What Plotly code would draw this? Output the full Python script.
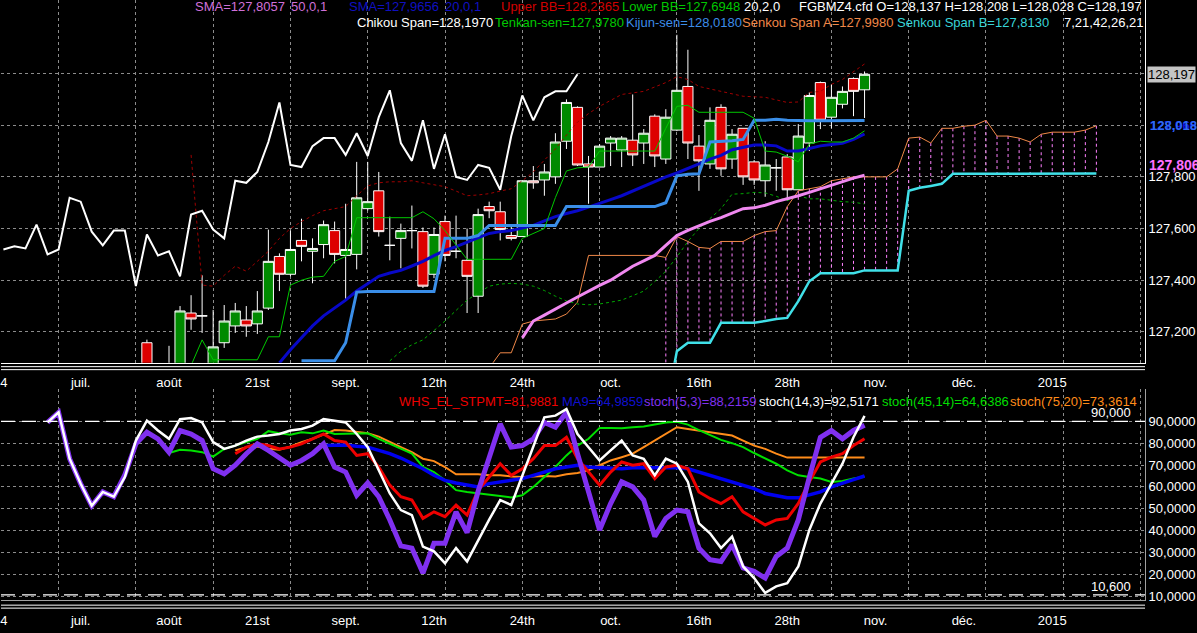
import plotly.graph_objects as go

FONT = "Liberation Sans, Arial, sans-serif"

# ---------------- price panel (x = bar index) ----------------
candle_start = 13
opens = [127.158, 127.020, 127.060, 127.050, 127.273, 127.262, 127.060, 127.158, 127.223, 127.246,
         127.231, 127.292, 127.492, 127.423, 127.554, 127.512, 127.538, 127.592, 127.496, 127.500,
         127.677, 127.746, 127.535, 127.562, 127.592, 127.588, 127.423, 127.627, 127.512, 127.477,
         127.338, 127.685, 127.665, 127.573, 127.569, 127.785, 127.788, 127.800, 127.938, 128.069,
         127.850, 127.838, 127.931, 127.904, 127.942, 127.931, 128.035, 127.869, 127.981, 128.150,
         127.919, 127.850, 128.069, 127.869, 127.988, 127.858, 127.785, 127.835, 127.877, 127.750,
         127.931, 128.165, 128.031, 128.081, 128.181, 128.137]
highs = [127.170, 127.060, 127.146, 127.300, 127.342, 127.419, 127.285, 127.304, 127.312, 127.300,
         127.358, 127.596, 127.504, 127.592, 127.638, 127.562, 127.631, 127.627, 127.696, 127.858,
         127.858, 127.819, 127.646, 127.619, 127.689, 127.604, 127.604, 127.650, 127.650, 127.600,
         127.677, 127.704, 127.704, 127.612, 127.785, 127.842, 127.850, 127.969, 128.100, 128.073,
         127.881, 127.927, 127.958, 127.958, 128.119, 127.985, 128.042, 128.062, 128.350, 128.292,
         127.962, 128.069, 128.081, 127.985, 127.988, 127.865, 127.938, 127.869, 127.888, 128.004,
         128.127, 128.169, 128.158, 128.150, 128.185, 128.208]
lows = [127.000, 126.950, 126.980, 127.000, 127.208, 127.196, 127.000, 127.138, 127.196, 127.181,
        127.192, 127.285, 127.358, 127.415, 127.473, 127.388, 127.485, 127.465, 127.323, 127.442,
        127.670, 127.569, 127.477, 127.446, 127.523, 127.370, 127.408, 127.473, 127.485, 127.273,
        127.273, 127.640, 127.554, 127.554, 127.569, 127.754, 127.727, 127.773, 127.908, 127.842,
        127.696, 127.838, 127.842, 127.838, 127.842, 127.850, 127.838, 127.850, 127.977, 127.869,
        127.746, 127.831, 127.804, 127.831, 127.769, 127.769, 127.723, 127.746, 127.708, 127.750,
        127.900, 127.985, 127.988, 128.065, 128.035, 128.028]
closes = [127.050, 127.000, 127.030, 127.281, 127.250, 127.262, 127.142, 127.242, 127.281, 127.223,
          127.281, 127.473, 127.423, 127.519, 127.531, 127.523, 127.615, 127.500, 127.519, 127.719,
          127.704, 127.588, 127.535, 127.592, 127.592, 127.377, 127.577, 127.496, 127.512, 127.415,
          127.654, 127.669, 127.596, 127.562, 127.785, 127.777, 127.819, 127.935, 128.088, 127.846,
          127.838, 127.919, 127.950, 127.950, 127.885, 127.969, 127.881, 128.031, 128.135, 127.931,
          127.862, 128.019, 127.831, 127.965, 127.800, 127.788, 127.846, 127.835, 127.750, 127.958,
          128.115, 128.019, 128.108, 128.131, 128.131, 128.197]
chikou_shift = 26

tenkan_start = 17
tenkan = [127.070, 127.169, 127.092, 127.092, 127.092, 127.092, 127.092, 127.181, 127.181, 127.381,
          127.400, 127.412, 127.415, 127.473, 127.492, 127.642, 127.642, 127.642, 127.642, 127.642,
          127.642, 127.665, 127.638, 127.592, 127.535, 127.481, 127.481, 127.481, 127.481, 127.481,
          127.562, 127.580, 127.600, 127.720, 127.823, 127.835, 127.838, 127.900, 127.900, 127.900,
          127.900, 127.900, 127.900, 127.988, 128.073, 128.077, 128.050, 128.050, 128.050, 128.050,
          128.050, 128.027, 127.900, 127.896, 127.880, 127.858, 127.927, 127.938, 127.935, 127.935,
          127.950, 127.978]

kijun_start = 27
kijun = [127.088, 127.088, 127.088, 127.088, 127.158, 127.354, 127.356, 127.356, 127.356, 127.356,
         127.356, 127.356, 127.356, 127.562, 127.562, 127.562, 127.573, 127.612, 127.612, 127.612,
         127.612, 127.612, 127.612, 127.612, 127.685, 127.685, 127.685, 127.685, 127.685, 127.685,
         127.685, 127.685, 127.685, 127.700, 127.804, 127.810, 127.812, 127.935, 127.937, 127.940,
         127.945, 128.019, 128.019, 128.023, 128.019, 128.017, 128.017, 128.017, 128.017, 128.017,
         128.017, 128.018]

sma20_start = 25
sma20 = [127.080, 127.131, 127.177, 127.223, 127.262, 127.292, 127.323, 127.358, 127.388, 127.415,
         127.428, 127.438, 127.455, 127.473, 127.495, 127.515, 127.530, 127.546, 127.564, 127.581,
         127.588, 127.592, 127.602, 127.612, 127.630, 127.646, 127.658, 127.669, 127.683, 127.696,
         127.712, 127.727, 127.746, 127.765, 127.783, 127.800, 127.815, 127.831, 127.850, 127.869,
         127.883, 127.905, 127.915, 127.923, 127.923, 127.920, 127.900, 127.900, 127.910, 127.920,
         127.925, 127.930, 127.945, 127.966]

sma50_start = 47
sma50 = [127.177, 127.242, 127.265, 127.290, 127.312, 127.335, 127.358, 127.380, 127.400, 127.427,
         127.454, 127.475, 127.496, 127.535, 127.573, 127.593, 127.612, 127.628, 127.642, 127.660,
         127.677, 127.680, 127.690, 127.704, 127.715, 127.727, 127.740, 127.754, 127.768, 127.781,
         127.795, 127.806]

bb_up_start = 17
bb_up = [127.885, 127.381, 127.377, 127.419, 127.454, 127.435, 127.473, 127.512, 127.562, 127.600,
         127.627, 127.650, 127.669, 127.677, 127.685, 127.727, 127.765, 127.777, 127.781, 127.781,
         127.785, 127.777, 127.770, 127.762, 127.745, 127.727, 127.730, 127.735, 127.745, 127.754,
         127.785, 127.819, 127.865, 127.908, 127.962, 128.012, 128.045, 128.073, 128.096, 128.119,
         128.125, 128.131, 128.148, 128.165, 128.188, 128.177, 128.150, 128.140, 128.131, 128.120,
         128.112, 128.110, 128.108, 128.098, 128.088, 128.090, 128.127, 128.131, 128.158, 128.177,
         128.208, 128.237]

bb_lo_start = 35
bb_lo = [127.088, 127.125, 127.150, 127.169, 127.205, 127.242, 127.283, 127.323, 127.350, 127.377,
         127.385, 127.388, 127.385, 127.377, 127.360, 127.338, 127.320, 127.308, 127.305, 127.308,
         127.315, 127.323, 127.340, 127.358, 127.395, 127.435, 127.490, 127.550, 127.600, 127.640,
         127.677, 127.733, 127.735, 127.740, 127.738, 127.725, 127.708, 127.727, 127.715, 127.715,
         127.710, 127.704, 127.702, 127.695]

span_a_start = 44
span_a = [127.060, 127.119, 127.119, 127.230, 127.242, 127.245, 127.250, 127.269, 127.315, 127.496,
          127.496, 127.496, 127.496, 127.496, 127.496, 127.496, 127.488, 127.569, 127.550, 127.527,
          127.523, 127.550, 127.550, 127.550, 127.573, 127.588, 127.592, 127.685, 127.746, 127.754,
          127.762, 127.785, 127.792, 127.800, 127.800, 127.800, 127.800, 127.831, 127.950, 127.954,
          127.931, 127.988, 127.988, 127.996, 128.000, 128.019, 127.958, 127.958, 127.950, 127.935,
          127.965, 127.973, 127.973, 127.973, 127.981, 127.998]

span_b_start = 60
span_b = [126.900, 127.125, 127.158, 127.158, 127.158, 127.235, 127.235, 127.235, 127.235, 127.242,
          127.250, 127.254, 127.319, 127.396, 127.427, 127.427, 127.427, 127.427, 127.438, 127.438,
          127.438, 127.438, 127.746, 127.758, 127.765, 127.773, 127.812, 127.812, 127.812, 127.812,
          127.812, 127.812, 127.812, 127.812, 127.812, 127.812, 127.812, 127.812, 127.812, 127.813]

# ---------------- oscillator panel ----------------
stoch53_start = 4
stoch53 = [89.5, 94.1, 72.9, 61.4, 51.4, 57.7, 55.5, 65.5, 79.7, 85.0,
           82.0, 75.9, 85.8, 84.2, 81.2, 68.3, 66.0, 69.9, 75.2, 79.7,
           76.7, 73.6, 69.9, 72.1, 75.2, 79.7, 69.1, 66.8, 56.2, 61.8,
           55.5, 44.9, 33.0, 32.0, 20.6, 34.2, 34.2, 48.6, 39.1, 58.0,
           73.0, 88.8, 78.2, 78.9, 82.0, 89.5, 87.3, 94.1, 75.2, 57.0,
           40.3, 52.4, 62.3, 60.0, 54.0, 37.3, 45.6, 49.4, 48.6, 32.0,
           26.7, 25.9, 33.5, 22.9, 21.4, 18.3, 28.2, 32.0, 44.9, 64.5,
           82.7, 85.8, 82.0, 85.8, 88.2]

stoch143_start = 4
stoch143 = [89.5, 94.1, 72.9, 61.4, 51.4, 57.7, 55.5, 64.5, 81.2, 90.3,
            85.8, 82.0, 91.0, 91.5, 89.5, 80.5, 77.4, 78.9, 81.2, 83.0,
            83.5, 84.2, 85.8, 86.5, 88.0, 91.0, 90.3, 89.5, 84.2, 78.2,
            67.6, 57.0, 49.4, 47.1, 32.7, 30.5, 25.1, 32.0, 25.9, 35.8,
            45.0, 54.0, 51.7, 65.1, 78.6, 91.8, 92.6, 95.6, 84.2, 78.2,
            72.1, 76.7, 81.2, 74.4, 72.9, 65.3, 72.9, 70.6, 62.3, 43.3,
            38.8, 32.0, 37.3, 23.6, 18.3, 11.5, 14.5, 16.0, 23.6, 40.3,
            52.4, 61.5, 70.6, 82.7, 92.5]

whs_start = 21
whs = [75.2, 78.2, 79.7, 78.9, 77.4, 78.2, 79.7, 82.0, 84.2, 81.2,
       80.5, 74.4, 75.2, 69.1, 60.8, 55.5, 54.0, 45.6, 48.6, 46.4,
       51.7, 47.1, 58.5, 64.5, 70.6, 65.3, 68.3, 72.9, 78.9, 78.9,
       82.7, 72.9, 66.8, 60.8, 66.8, 71.4, 69.9, 70.6, 63.8, 69.1,
       69.9, 68.3, 57.7, 54.7, 52.4, 55.5, 48.6, 45.6, 42.6, 44.9,
       45.6, 52.4, 62.3, 71.4, 73.6, 75.2, 78.9, 82.0]

ma9_start = 29
ma9 = [78.9, 78.9, 79.2, 78.6, 78.2, 76.7, 75.2, 73.2, 70.9, 68.3,
       65.3, 63.0, 61.8, 60.8, 60.0, 61.5, 62.3, 63.0, 63.8, 65.3,
       66.8, 68.3, 69.1, 69.9, 69.1, 68.8, 68.3, 68.3, 68.8, 68.8,
       68.8, 68.8, 68.8, 68.3, 66.8, 65.3, 63.8, 62.3, 60.8, 59.2,
       57.0, 55.8, 55.0, 55.0, 56.2, 57.7, 60.0, 61.5, 63.3, 65.0]

stoch4514_start = 15
stoch4514 = [75.5, 77.0, 76.7, 75.9, 73.9, 77.4, 78.9, 80.5, 82.0, 85.5,
             84.5, 83.9, 85.0, 84.5, 85.8, 84.2, 84.2, 84.2, 84.5, 82.0,
             79.7, 77.4, 75.2, 69.1, 66.8, 63.0, 58.5, 57.7, 57.0, 56.2,
             55.8, 55.2, 56.2, 60.0, 64.5, 69.1, 74.4, 78.9, 82.0, 87.0,
             87.0, 86.8, 87.3, 87.6, 88.5, 89.5, 89.8, 88.5, 86.0, 83.9,
             81.5, 80.0, 78.2, 75.5, 72.9, 70.6, 67.6, 65.3, 64.5, 63.8,
             62.3, 62.7, 63.8, 64.6]

stoch7520_start = 21
stoch7520 = [76.7, 78.2, 78.5, 77.4, 77.0, 78.5, 80.5, 82.0, 83.9, 86.0,
             85.8, 85.0, 84.5, 83.0, 80.5, 78.2, 75.9, 72.9, 71.8, 69.1,
             65.8, 65.8, 65.8, 65.3, 65.3, 64.8, 64.5, 64.8, 65.0, 64.8,
             65.8, 66.4, 67.6, 69.9, 72.1, 73.6, 75.2, 78.2, 81.2, 84.2,
             87.3, 86.5, 85.8, 85.0, 84.2, 83.5, 81.2, 78.9, 77.4, 75.2,
             73.4, 73.4, 73.4, 73.4, 73.4, 73.4, 73.4, 73.4]

upper_level = 90.0
lower_level = 10.6

# ---------------- axis labels ----------------
x_tick_pos = [0.05, 7, 15, 23, 31, 39, 47, 55, 63, 71, 79, 87, 95]
x_tick_text = ["4", "juil.", "ao\u00fbt", "21st", "sept.", "12th", "24th", "oct.", "16th", "28th",
               "nov.", "d\u00e9c.", "2015"]
x_grid_pos = [5, 12, 19, 26, 33, 40, 47, 54, 61, 68, 75, 82, 89, 96, 103]
price_ticks = [127.2, 127.4, 127.6, 127.8, 128.0, 128.2]
price_tick_text = ["127,200", "127,400", "127,600", "127,800", "", ""]
osc_ticks = [10, 20, 30, 40, 50, 60, 70, 80, 90]
osc_tick_text = ["10,0000", "20,0000", "30,0000", "40,0000", "50,0000", "60,0000", "70,0000",
                 "80,0000", "90,0000"]


def idx(start, values):
    return list(range(start, start + len(values)))


fig = go.Figure()

# kumo drawn as dashed vertical strokes between the two spans
cloud_x, cloud_y = [], []
for i in idx(span_b_start, span_b):
    cloud_x += [i, i, None]
    cloud_y += [span_a[i - span_a_start], span_b[i - span_b_start], None]

fig.add_trace(go.Candlestick(
    x=idx(candle_start, closes), open=opens, high=highs, low=lows, close=closes,
    increasing=dict(line=dict(color="white", width=1), fillcolor="#008a00"),
    decreasing=dict(line=dict(color="white", width=1), fillcolor="#dd0000"),
    whiskerwidth=0, xaxis="x", yaxis="y", hoverinfo="skip"))

price_lines = [
    (cloud_x, cloud_y, "#ff80ff", 1, "3px,3px"),
    (idx(span_a_start, span_a), span_a, "#f08848", 1, "solid"),
    (idx(span_b_start, span_b), span_b, "#40e0e8", 2.5, "solid"),
    (idx(bb_up_start, bb_up), bb_up, "#a00000", 1, "3px,3px"),
    (idx(bb_lo_start, bb_lo), bb_lo, "#00a800", 1, "3px,3px"),
    (idx(sma50_start, sma50), sma50, "#f088f0", 3, "solid"),
    (idx(sma20_start, sma20), sma20, "#0808c8", 3, "solid"),
    (idx(kijun_start, kijun), kijun, "#3a8ee8", 3, "solid"),
    (idx(tenkan_start, tenkan), tenkan, "#00c800", 1, "solid"),
    ([i - chikou_shift for i in idx(candle_start, closes)][chikou_shift - candle_start:],
     closes[chikou_shift - candle_start:], "white", 2, "solid"),
]
for xs, ys, col, w, dash in price_lines:
    fig.add_trace(go.Scatter(x=xs, y=ys, mode="lines", line=dict(color=col, width=w, dash=dash),
                             xaxis="x", yaxis="y", hoverinfo="skip"))

osc_lines = [
    (stoch7520_start, stoch7520, "#ff8c1a", 2),
    (stoch4514_start, stoch4514, "#00e000", 2),
    (ma9_start, ma9, "#0000f0", 3.5),
    (whs_start, whs, "#ee0000", 3),
    (stoch53_start, stoch53, "#8030f0", 5),
    (stoch143_start, stoch143, "white", 2.5),
]
for start, vals, col, w in osc_lines:
    fig.add_trace(go.Scatter(x=idx(start, vals), y=vals, mode="lines",
                             line=dict(color=col, width=w), xaxis="x2", yaxis="y2",
                             hoverinfo="skip"))

W, H, R = 1197, 633, 52
PW = W - R
x_range = [(0 - 2.4) / 11.05, (PW - 2.4) / 11.05]

axis_font = dict(family=FONT, size=13, color="white")
xcommon = dict(range=x_range, tickmode="array", tickvals=x_tick_pos, ticktext=x_tick_text,
               showgrid=False, ticks="", tickfont=axis_font, zeroline=False, showline=True,
               ticklabelstandoff=8, ticklabeloverflow="allow",
               minor=dict(tickmode="array", tickvals=x_grid_pos, showgrid=True,
                          gridcolor="#8c8c8c", griddash="3px,3px", gridwidth=1, ticks=""))

fig.update_layout(
    width=W, height=H, paper_bgcolor="black", plot_bgcolor="black",
    margin=dict(l=0, r=R, t=0, b=0), showlegend=False, hovermode=False,
    boxgap=0.08, boxgroupgap=0,
    xaxis=dict(domain=[0, 1], anchor="y", linecolor="white", rangeslider=dict(visible=False),
               **xcommon),
    xaxis2=dict(domain=[0, 1], anchor="y2", linecolor="#a0a0a0",
                rangeslider=dict(visible=False), **xcommon),
    yaxis=dict(domain=[1 - 365 / H, 1], anchor="x", side="right",
               range=[128.4846 - 365 / 260, 128.4846],
               tickmode="array", tickvals=price_ticks, ticktext=price_tick_text,
               showgrid=True, gridcolor="#8c8c8c", griddash="3px,3px", zeroline=False,
               showline=True, linecolor="white", ticks="", tickfont=axis_font),
    yaxis2=dict(domain=[1 - 604 / H, 1 - 391 / H], anchor="x2", side="right",
                range=[90 - 180 / 2.2, 90 + 33 / 2.2],
                tickmode="array", tickvals=osc_ticks, ticktext=osc_tick_text,
                showgrid=True, gridcolor="#8c8c8c", griddash="3px,3px", zeroline=False,
                showline=True, linecolor="#a0a0a0", ticks="", tickfont=axis_font),
)

shapes = []
for yp in (369, 372, 609, 612):
    shapes.append(dict(type="line", xref="paper", yref="paper", x0=0, x1=1,
                       y0=1 - yp / H, y1=1 - yp / H, line=dict(color="white", width=1)))
for lvl in (upper_level, lower_level):
    shapes.append(dict(type="line", xref="x2 domain", yref="y2", x0=0, x1=1, y0=lvl, y1=lvl,
                       line=dict(color="white", width=1.2, dash="14px,7px")))
fig.update_layout(shapes=shapes)

annotations = []


def label(text, xpx, ypx, color, size=13, anchor="left"):
    annotations.append(dict(text=text, x=xpx / PW, y=1 - ypx / H, xref="paper", yref="paper",
                            xanchor=anchor, yanchor="middle", showarrow=False,
                            font=dict(family=FONT, size=size, color=color)))


top_row = [("SMA=127,8057", 192, "#d070d8"), ("50,0,1", 288, "#d070d8"),
           ("SMA=127,9656", 346, "#1010c0"), ("20,0,1", 442, "#1010c0"),
           ("Upper BB=128,2365", 498, "#d00000"), ("Lower BB=127,6948", 620, "#00c800"),
           ("20,2,0", 742, "white"),
           ("FGBMZ4.cfd O=128,137 H=128,208 L=128,028 C=128,197", 797, "white")]
for t, xp, c in top_row:
    label(t, xp, 7, c)

second_row = [("Chikou Span=128,1970", 354, "white"), ("Tenkan-sen=127,9780", 492, "#00c800"),
              ("Kijun-sen=128,0180", 624, "#3c8ce8"), ("Senkou Span A=127,9980", 740, "#f08848"),
              ("Senkou Span B=127,8130", 895, "#38d4d8"), ("7,21,42,26,21", 1062, "white")]
for t, xp, c in second_row:
    label(t, xp, 23, c)

osc_row = [("WHS_EL_STPMT=81,9881", 396, "#ee0000"), ("MA9=64,9859", 559, "#1010d0"),
           ("stoch(5,3)=88,2159", 642, "#8030f0"), ("stoch(14,3)=92,5171", 757, "white"),
           ("stoch(45,14)=64,6386", 880, "#00dd00"), ("stoch(75,20)=73,3614", 1008, "#ff8c1a")]
for t, xp, c in osc_row:
    label(t, xp, 404, c)

# price flags on the right scale
annotations.append(dict(text="128,197", x=1, xref="paper", y=closes[-1], yref="y",
                        xanchor="left", yanchor="middle", xshift=2, showarrow=False,
                        bgcolor="#c4c4c4", borderpad=0,
                        font=dict(family=FONT, size=13, color="black")))
annotations.append(dict(text="<b>127,966</b>", x=1, xref="paper", y=sma20[-1], yref="y",
                        xanchor="left", yanchor="middle", xshift=3, yshift=8, showarrow=False,
                        font=dict(family=FONT, size=13, color="#1010e0")))
annotations.append(dict(text="<b>128,018</b>", x=1, xref="paper", y=kijun[-1], yref="y",
                        xanchor="left", yanchor="middle", xshift=3, yshift=-5, showarrow=False,
                        font=dict(family=FONT, size=13, color="#2f6cf0")))
annotations.append(dict(text="<b>127,806</b>", x=1, xref="paper", y=sma50[-1], yref="y",
                        xanchor="left", yanchor="middle", xshift=2, yshift=10, showarrow=False,
                        font=dict(family=FONT, size=14, color="#ff70ff")))
for lvl, txt in ((upper_level, "90,000"), (lower_level, "10,600")):
    annotations.append(dict(text=txt, x=1133 / PW, xref="paper", y=lvl, yref="y2",
                            xanchor="right", yanchor="bottom", yshift=-1, showarrow=False,
                            font=dict(family=FONT, size=13, color="white")))

fig.update_layout(annotations=annotations)

page_reset = ("document.documentElement.style.background='black';"
              "document.body.style.margin='0px';document.body.style.padding='0px';"
              "document.body.style.background='black';document.body.style.overflow='hidden';")
fig.write_html("out.html", config={"displayModeBar": False}, post_script=page_reset)
